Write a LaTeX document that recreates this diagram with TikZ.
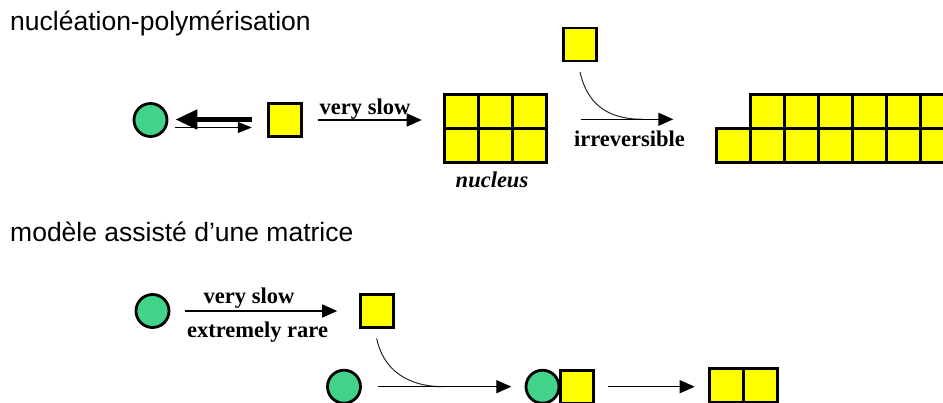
\documentclass[tikz,border=0pt]{standalone}
\usepackage{fontspec}
\setmainfont{Liberation Serif}
\newfontfamily\arialfont{Liberation Sans}
\usetikzlibrary{arrows.meta}
\definecolor{molgreen}{RGB}{66,211,139}
\definecolor{molyellow}{RGB}{255,255,0}
\definecolor{curvegray}{RGB}{40,40,40}

\begin{document}
\begin{tikzpicture}[x=1pt,y=-1pt,
  mono/.style={circle, draw=black, line width=2.8pt, fill=molgreen,
    minimum size=33pt, inner sep=0pt},
  unit/.style={rectangle, draw=black, line width=2.8pt, fill=molyellow,
    minimum size=33pt, inner sep=0pt},
  cell/.style={rectangle, draw=black, line width=2.8pt, fill=molyellow,
    minimum size=34pt, inner sep=0pt, outer sep=0pt},
  title/.style={font=\arialfont\fontsize{26.5}{31}\selectfont, anchor=base west, inner sep=0pt},
  lbl/.style={font=\fontsize{22.5}{26}\selectfont\bfseries, anchor=base, inner sep=0pt},
  flow/.style={line width=1.3pt, -{Triangle[length=15pt,width=13pt]}},
  thinflow/.style={line width=1.3pt, -{Triangle[length=14pt,width=11pt]}},
  thickflow/.style={line width=5pt, -{Triangle[length=22pt,width=19pt]}},
  curvelink/.style={line width=1pt, draw=curvegray},
]
\useasboundingbox (0,0) rectangle (943,403);
\fill[white] (0,0) rectangle (943,403);
\clip (0,0) rectangle (943,403);

% ---------- nucleation-polymerisation ----------
\node[title] (t1) at (10,30.7) {nucléation-polymérisation};

\node[mono] (c1) at (150.5,120) {};
\node[unit] (s1) at (285,120) {};

% reversible monomer exchange
\draw[thickflow, shorten <=15.3pt, shorten >=7pt]
  ([yshift=0.5pt]s1.west) -- ([yshift=0.5pt]c1.east);
\draw[thinflow, shorten <=7pt, shorten >=15.3pt]
  ([yshift=-7.5pt]c1.east) -- ([yshift=-7.5pt]s1.west);

% nucleus (2 x 3)
\foreach \r in {1,2} {
  \foreach \c in {1,2,3} {
    \node[cell] (n-\r-\c) at ({461.7+34*(\c-1)},{111.7+34*(\r-1)}) {};
  }
}
\node[lbl, font=\fontsize{22.5}{26}\selectfont\bfseries\itshape] (nl) at (492,188) {nucleus};

\draw[flow, shorten <=15pt, shorten >=23pt] (s1.east) -- (s1.east -| n-1-1.west);
\node[lbl] (vs1) at (365,115) {very slow};

% free monomer joining the polymer
\node[unit] (s2) at (580,44.5) {};
\coordinate (irrA) at (580.7,119.3);
\coordinate (irrB) at (673.3,119.3);
\coordinate (merge) at (643,119.3);
\draw[curvelink] ([yshift=-9.5pt]s2.south) .. controls (588,108) and (612,119.3) .. (merge);
\draw[flow] (irrA) -- (irrB);
\node[lbl] (irr) at (629.5,146.7) {irreversible};

% growing polymer
\foreach \k in {0,...,6} {
  \node[cell] (pb-\k) at ({733.4+34*\k},145.7) {};
}
\foreach \k in {1,...,6} {
  \node[cell] (pt-\k) at ({733.4+34*\k},111.7) {};
}

% ---------- template-assisted model ----------
\node[title] (t2) at (10,241.7) {modèle assisté d’une matrice};

\node[mono] (c2) at (152.5,311) {};
\node[unit] (s3) at (376.7,311) {};
\draw[flow, shorten <=15pt, shorten >=21.6pt] (c2.east) -- (s3.west);
\node[lbl] (vs2) at (249,303.3) {very slow};
\node[lbl] (rare) at (257.5,337.3) {extremely rare};

\node[mono] (c3) at (344,386.7) {};
\node[mono] (c4) at (542.5,386.7) {};
\node[unit, anchor=west] (s4) at ([xshift=-1.5pt]c4.east) {};
\coordinate (merge2) at (443.3,386.7);
\draw[curvelink] ([yshift=-9.5pt]s3.south) .. controls (383,370) and (408,386.7) .. (merge2);
\draw[flow, shorten <=15.6pt, shorten >=13.3pt] (c3.east) -- (c4.west);

\node[cell] (q1) at (726.7,385.5) {};
\node[cell] (q2) at (760.7,385.5) {};
\draw[flow, shorten <=13.3pt, shorten >=15pt] (s4.east |- c4.east) -- (q1.west |- c4.east);

\end{tikzpicture}
\end{document}
